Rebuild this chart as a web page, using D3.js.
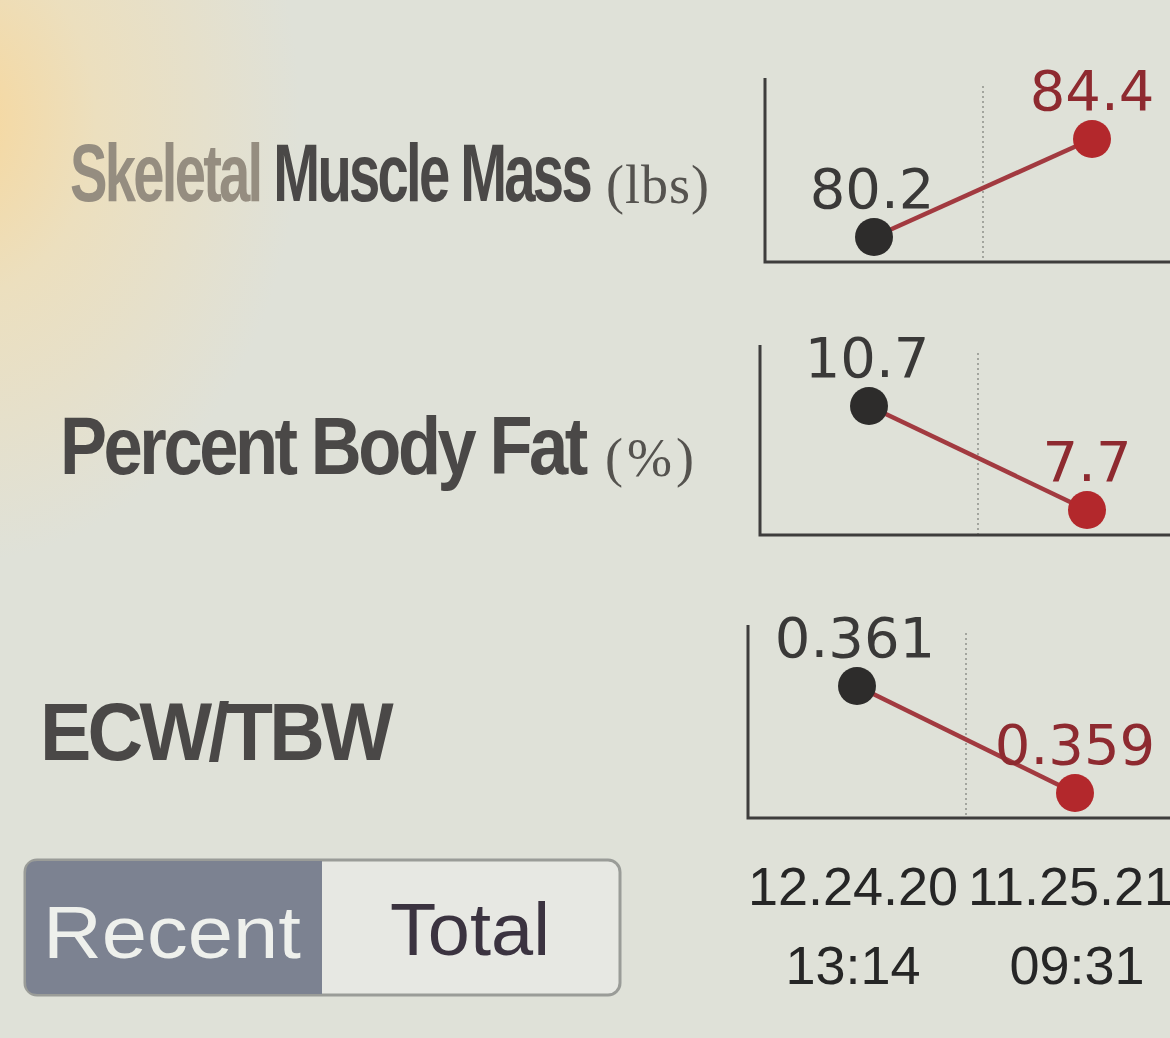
<!DOCTYPE html>
<html>
<head>
<meta charset="utf-8">
<script src="https://cdn.jsdelivr.net/npm/d3@7"></script>
<style>
  body { margin: 0; background: #dfe1d8; }
  svg { display: block; }
</style>
</head>
<body>
<div id="chart"></div>
<script>
// Data: two sessions, three metrics
var dates = ["12.24.20", "11.25.21"];
var times = ["13:14", "09:31"];
var metrics = ["Skeletal Muscle Mass", "Percent Body Fat", "ECW/TBW"];
var units = ["(lbs)", "(%)", ""];
var muscleMass = [80.2, 84.4];
var bodyFat = [10.7, 7.7];
var ecwTbw = [0.361, 0.359];
var valueLabels = [["80.2", "84.4"], ["10.7", "7.7"], ["0.361", "0.359"]];
var seriesList = [muscleMass, bodyFat, ecwTbw];

var width = 1170, height = 1038;

var svg = d3.select("#chart").append("svg")
    .attr("width", width)
    .attr("height", height);

// background with the warm glare on the left edge
var defs = svg.append("defs");
var glare = defs.append("radialGradient")
    .attr("id", "glare")
    .attr("gradientUnits", "userSpaceOnUse")
    .attr("cx", -40).attr("cy", 120).attr("r", 340)
    .attr("gradientTransform", "translate(-40,120) scale(1,1.3) translate(40,-120)");
glare.append("stop").attr("offset", "0%").attr("stop-color", "#f7d79c");
glare.append("stop").attr("offset", "40%").attr("stop-color", "#ecdfbe");
glare.append("stop").attr("offset", "100%").attr("stop-color", "#dfe1d8");

svg.append("rect")
    .attr("width", width).attr("height", height)
    .attr("fill", "url(#glare)");

// panel layout (axis origin, top and bottom of each small chart)
var panels = [
  {axisX: 765, top: 78, bottom: 262, labelY: 201},
  {axisX: 760, top: 345, bottom: 535, labelY: 474},
  {axisX: 748, top: 625, bottom: 818, labelY: 760}
];

var labelLengths = [520, 525, 350];
var labelX = [70, 60, 40];
var unitX = [606, 605, 0];

// squeeze a text horizontally to a given width
function fitWidth(sel, x, y, w) {
  var natural = sel.node().getComputedTextLength();
  sel.attr("transform", "translate(" + x + "," + y + ") scale(" + (w / natural) + ",1)");
}

panels.forEach(function(p, k) {
  var values = seriesList[k];

  var x = d3.scaleBand()
      .domain(dates)
      .range([p.axisX, p.axisX + 436])
      .padding(0);

  var y = d3.scaleLinear()
      .domain([d3.min(values), d3.max(values)])
      .range([p.bottom - 25, p.top + 61]);

  var g = svg.append("g").attr("class", "panel");

  // metric title on the left
  var title = g.append("text")
      .attr("font-family", "'Liberation Sans', Arial, sans-serif")
      .attr("font-weight", "bold")
      .attr("font-size", 82)
      .attr("letter-spacing", -4)
      .attr("fill", "#4a4847");
  if (k === 0) {
    title.append("tspan").attr("fill", "#958d80").text("Skeletal ");
    title.append("tspan").text("Muscle Mass");
  } else {
    title.text(metrics[k]);
  }
  fitWidth(title, labelX[k], p.labelY, labelLengths[k]);

  if (units[k]) {
    g.append("text")
        .attr("x", unitX[k])
        .attr("y", p.labelY + 2)
        .attr("font-family", "'Liberation Serif', serif")
        .attr("font-size", 54)
        .attr("letter-spacing", k === 1 ? 4 : 1)
        .attr("fill", "#55534f")
        .text(units[k]);
  }

  // dotted divider between the two sessions
  g.append("line")
      .attr("x1", x(dates[1])).attr("x2", x(dates[1]))
      .attr("y1", p.top + 8).attr("y2", p.bottom)
      .attr("stroke", "#a3a59e")
      .attr("stroke-width", 2)
      .attr("stroke-dasharray", "2,3");

  // L-shaped axes
  g.append("path")
      .attr("d", "M" + p.axisX + "," + p.top + "V" + p.bottom + "H" + width)
      .attr("fill", "none")
      .attr("stroke", "#3e3d3c")
      .attr("stroke-width", 3);

  var cx = function(d, i) { return x(dates[i]) + x.bandwidth() / 2; };

  g.append("path")
      .datum(values)
      .attr("d", d3.line().x(cx).y(function(d) { return y(d); }))
      .attr("fill", "none")
      .attr("stroke", "#a23a40")
      .attr("stroke-width", 4.5);

  g.selectAll("circle")
      .data(values)
    .enter().append("circle")
      .attr("cx", cx)
      .attr("cy", function(d) { return y(d); })
      .attr("r", 19)
      .attr("fill", function(d, i) { return i === 0 ? "#2d2c2b" : "#b3282c"; });

  g.selectAll("text.value")
      .data(values)
    .enter().append("text")
      .attr("class", "value")
      .attr("x", function(d, i) { return cx(d, i) + (i === 1 ? 0 : -2); })
      .attr("y", function(d) { return y(d) - 29; })
      .attr("text-anchor", "middle")
      .attr("font-family", "'DejaVu Sans', sans-serif")
      .attr("font-size", 56)
      .attr("fill", function(d, i) { return i === 0 ? "#3a3938" : "#8e2a30"; })
      .text(function(d, i) { return valueLabels[k][i]; });
});

// session dates and times along the bottom
var xb = d3.scaleBand()
    .domain(dates)
    .range([748, 1184]);

svg.selectAll("text.date")
    .data(dates)
  .enter().append("text")
    .attr("class", "date")
    .attr("x", function(d) { return xb(d) + xb.bandwidth() / 2 - 4; })
    .attr("y", 905)
    .attr("text-anchor", "middle")
    .attr("font-family", "'Liberation Sans Narrow', 'Liberation Sans', sans-serif")
    .attr("font-size", 54)
    .attr("fill", "#262626")
    .text(function(d) { return d; });

svg.selectAll("text.time")
    .data(times)
  .enter().append("text")
    .attr("class", "time")
    .attr("x", function(d, i) { return xb(dates[i]) + xb.bandwidth() / 2 + (i === 1 ? 2 : -4); })
    .attr("y", 984)
    .attr("text-anchor", "middle")
    .attr("font-family", "'Liberation Sans Narrow', 'Liberation Sans', sans-serif")
    .attr("font-size", 54)
    .attr("fill", "#262626")
    .text(function(d) { return d; });

// Recent / Total toggle
var btn = svg.append("g").attr("class", "toggle");
btn.append("rect")
    .attr("x", 25).attr("y", 860)
    .attr("width", 595).attr("height", 135)
    .attr("rx", 12)
    .attr("fill", "#e7e8e3")
    .attr("stroke", "#9a9c98")
    .attr("stroke-width", 3);
btn.append("path")
    .attr("d", "M322,861 H37 Q26,861 26,873 V982 Q26,994 37,994 H322 Z")
    .attr("fill", "#7c8291");
btn.append("text")
    .attr("x", 172).attr("y", 958)
    .attr("text-anchor", "middle")
    .attr("font-family", "'Liberation Sans', sans-serif")
    .attr("font-size", 74)
    .attr("textLength", 258)
    .attr("lengthAdjust", "spacingAndGlyphs")
    .attr("fill", "#eef0ec")
    .text("Recent");
btn.append("text")
    .attr("x", 470).attr("y", 955)
    .attr("text-anchor", "middle")
    .attr("font-family", "'Liberation Sans', sans-serif")
    .attr("font-size", 74)
    .attr("textLength", 160)
    .attr("lengthAdjust", "spacingAndGlyphs")
    .attr("fill", "#3b3340")
    .text("Total");
</script>
</body>
</html>
